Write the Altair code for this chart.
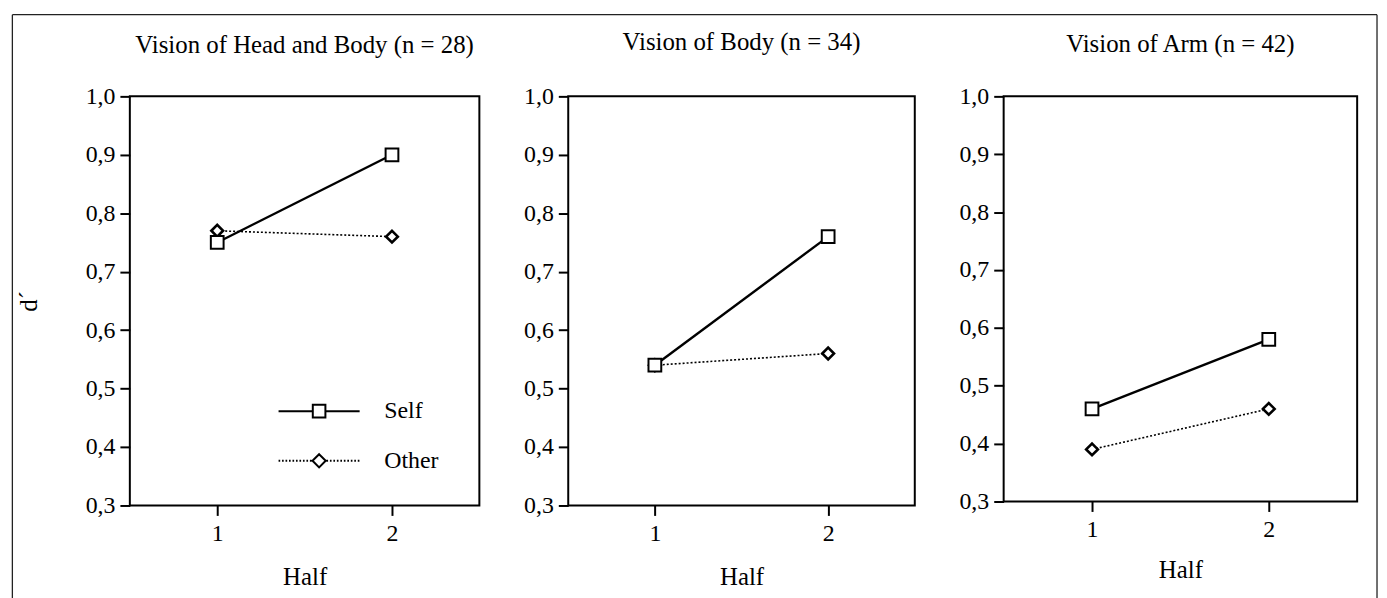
import altair as alt
import pandas as pd

FONT = "Liberation Serif"

half = [1, 2]
series_names = ["Self", "Other"]
panel_titles = ["Vision of Head and Body (n = 28)", "Vision of Body (n = 34)", "Vision of Arm (n = 42)"]
self_head_body = [0.75, 0.90]
other_head_body = [0.77, 0.76]
self_body = [0.54, 0.76]
other_body = [0.54, 0.56]
self_arm = [0.46, 0.58]
other_arm = [0.39, 0.46]
y_ticks = [0.3, 0.4, 0.5, 0.6, 0.7, 0.8, 0.9, 1.0]
x_ticks = [1, 2]
x_title = "Half"
y_title = "d\u00b4"

LEG_SIZE = 5450  # sqrt -> 73.8 px symbol box; unit = 36.9 px
LEG_HALF = 1.106  # line half-length in units (~40.8 px)


# legend symbol paths (unit box scaled by sqrt(size)/2)
def dotted(a, b, dash=0.045, gap=0.05):
    parts = []
    x = a
    while x < b - 1e-9:
        x2 = min(x + dash, b)
        parts.append(f"M{x:.3f},0H{x2:.3f}")
        x = x2 + gap
    return "".join(parts)


sq = 0.172
self_path = f"M{-LEG_HALF},0H{-sq}M{sq},0H{LEG_HALF}M{-sq},{-sq}H{sq}V{sq}H{-sq}Z"
dm = 0.18
other_path = (dotted(-LEG_HALF, -dm - 0.02) + dotted(dm + 0.02, LEG_HALF)
              + f"M0,{-dm}L{dm},0L0,{dm}L{-dm},0Z")


def frame_rule(**enc):
    return alt.Chart(alt.Data(values=[{"frame": 1}])).mark_rule(
        color="#222222", strokeWidth=1.3
    ).encode(**{k: alt.value(v) for k, v in enc.items()})


def make_panel(title, self_vals, other_vals, width, height, show_ytitle, show_legend,
               frames, x_title_pad, title_offset):
    df = pd.DataFrame({
        "half": half + half,
        "value": self_vals + other_vals,
        "series": [series_names[0]] * len(half) + [series_names[1]] * len(half),
    })
    x = alt.X("half:Q",
              scale=alt.Scale(domain=[0.5, 2.5], nice=False, zero=False),
              axis=alt.Axis(values=x_ticks, format="d", title=x_title,
                            labelPadding=6, titlePadding=x_title_pad))
    yargs = dict(values=y_ticks,
                 labelExpr="replace(format(datum.value, '.1f'), '.', ',')",
                 labelPadding=5)
    if show_ytitle:
        yargs.update(title=y_title, titlePadding=44)
    else:
        yargs.update(title=None)
    y = alt.Y("value:Q", scale=alt.Scale(domain=[0.3, 1.0], nice=False, zero=False),
              axis=alt.Axis(**yargs))

    base = alt.Chart(df)
    self_line = base.transform_filter(alt.datum.series == "Self").mark_line(
        color="black", strokeWidth=2.4).encode(x=x, y=y)
    other_line = base.transform_filter(alt.datum.series == "Other").mark_line(
        color="black", strokeWidth=1.6, strokeDash=[2, 2]).encode(x=x, y=y)
    other_pts = base.transform_filter(alt.datum.series == "Other").mark_point(
        shape="diamond", size=140, filled=True, fill="white", stroke="black",
        strokeWidth=2.6, opacity=1).encode(x=x, y=y)
    self_pts = base.transform_filter(alt.datum.series == "Self").mark_point(
        shape="square", size=165, filled=True, fill="white", stroke="black",
        strokeWidth=2, opacity=1).encode(x=x, y=y)

    layers = [self_line, other_line, other_pts, self_pts]
    if show_legend:
        legend_layer = base.transform_filter("false").mark_point(
            filled=False, color="black", strokeWidth=2, opacity=1, size=LEG_SIZE
        ).encode(
            x=x, y=y,
            shape=alt.Shape("series:N",
                            scale=alt.Scale(domain=series_names, range=[self_path, other_path]),
                            legend=alt.Legend(title=None, orient="none", legendX=152.6, legendY=279,
                                              symbolSize=LEG_SIZE, labelOffset=27.6, rowPadding=0,
                                              labelFont=FONT, labelFontSize=24, labelColor="black",
                                              symbolStrokeWidth=2, symbolStrokeColor="black",
                                              symbolFillColor="transparent", padding=0)))
        layers.append(legend_layer)
    for f in frames:
        layers.append(frame_rule(**f))
    return alt.layer(*layers).properties(
        width=width, height=height,
        title=alt.TitleParams(title, font=FONT, fontSize=25, fontWeight="normal", color="black",
                              offset=title_offset, frame="group", anchor="middle"),
    )


frame_top = -82.3
frame_bottom = 560
frame_left = -118.3
frame_right = 1256

p1 = make_panel(panel_titles[0], self_head_body, other_head_body, 352, 412, True, True,
                [dict(x=frame_left, y=frame_top, y2=frame_bottom),
                 dict(x=frame_left, x2=frame_right, y=frame_top),
                 dict(x=frame_right, y=frame_top, y2=frame_bottom)], 20, -44.3)
p2 = make_panel(panel_titles[1], self_body, other_body, 349, 412, False, False, [], 20, 30)
p3 = make_panel(panel_titles[2], self_arm, other_arm, 356, 408, False, False, [], 17, 28)

chart = alt.hconcat(p1, p2, p3, spacing=89.5, bounds="flush").properties(
    padding={"left": 2.7, "top": 2.7, "right": 0, "bottom": 0},
    background="white",
).configure_view(
    stroke="black", strokeWidth=2
).configure_axis(
    domain=False, grid=False, tickColor="black", tickWidth=2, tickSize=10,
    labelFont=FONT, labelFontSize=24, labelColor="black",
    titleFont=FONT, titleFontSize=25, titleFontWeight="normal", titleColor="black",
)

chart.save("out.html", embed_options={"renderer": "svg", "actions": False})
